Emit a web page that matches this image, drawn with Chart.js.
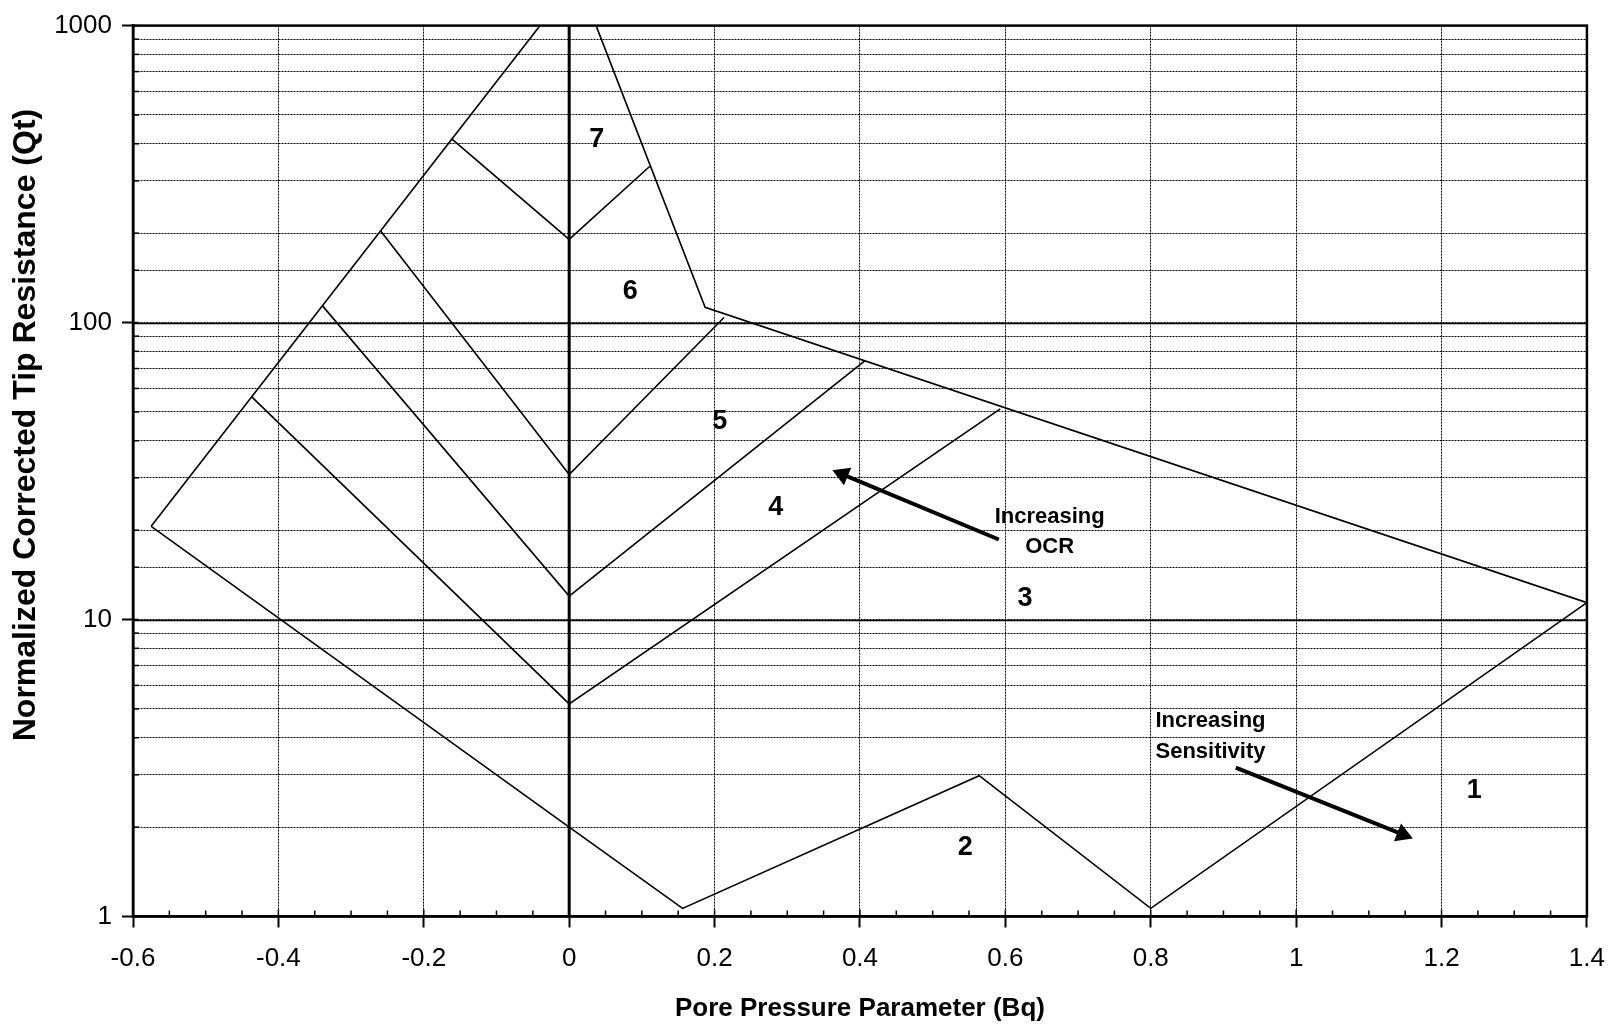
<!DOCTYPE html>
<html>
<head>
<meta charset="utf-8">
<script src="https://cdn.jsdelivr.net/npm/chart.js@4.4.0/dist/chart.umd.min.js"></script>
<style>
  html, body { margin: 0; padding: 0; background: #fff; }
  #wrap { width: 1621px; height: 1026px; }
</style>
</head>
<body>
<div id="wrap"><canvas id="chart"></canvas></div>
<script>
var outerBq = [-0.575, -0.04];
var outerQt = [20.6, 1000];
var upperBq = [0.037, 0.187, 1.4];
var upperQt = [1000, 112.5, 11.4];
var lowerBq = [-0.575, 0, 0.156, 0.564, 0.8, 1.4];
var lowerQt = [20.6, 2, 1.065, 2.98, 1.065, 11.4];
var line34Bq = [-0.437, 0, 0.593];
var line34Qt = [56.3, 5.2, 51.2];
var line45Bq = [-0.339, 0, 0.407];
var line45Qt = [113.6, 12.0, 74.5];
var line56Bq = [-0.259, 0, 0.213];
var line56Qt = [203, 30.8, 104];
var line67Bq = [-0.162, 0, 0.111];
var line67Qt = [416, 190.6, 336];
var zeroBq = [0, 0];
var zeroQt = [1, 1000];

var zoneNames = ["1", "2", "3", "4", "5", "6", "7"];
var zoneBq = [1.245, 0.545, 0.627, 0.284, 0.207, 0.084, 0.038];
var zoneQt = [2.65, 1.71, 11.8, 23.8, 46.5, 127, 414];

var ocrArrowBq = [0.591, 0.376];
var ocrArrowQt = [18.6, 30.8];
var sensArrowBq = [0.917, 1.1465];
var sensArrowQt = [3.17, 1.89];

var yTickLabels = [1, 10, 100, 1000];
var yTitle = "Normalized Corrected Tip Resistance (Qt)";

var FONT = "'Liberation Sans', Arial, sans-serif";
Chart.defaults.font.family = FONT;
Chart.defaults.color = "#000";

function pts(xs, ys) {
  return xs.map(function (x, i) { return { x: x, y: ys[i] }; });
}
function isDecade(v) {
  var l = Math.log10(v);
  return Math.abs(l - Math.round(l)) < 1e-9;
}
function line(xs, ys, w) {
  return { data: pts(xs, ys), showLine: true, borderColor: "#000", borderWidth: w,
           pointRadius: 0, fill: false, tension: 0 };
}
function arrow(xs, ys) {
  return {
    data: pts(xs, ys), showLine: true, borderColor: "#000", borderWidth: 4,
    pointStyle: "triangle", backgroundColor: "#000", pointBorderColor: "#000",
    pointRadius: function (c) { return c.dataIndex === 1 ? 7 : 0; },
    rotation: function (c) {
      var sx = c.chart.scales.x, sy = c.chart.scales.y;
      var d = c.dataset.data;
      var dx = sx.getPixelForValue(d[1].x) - sx.getPixelForValue(d[0].x);
      var dy = sy.getPixelForValue(d[1].y) - sy.getPixelForValue(d[0].y);
      return Math.atan2(dy, dx) * 180 / Math.PI + 90;
    }
  };
}

var decor = {
  id: "decor",
  beforeDatasetsDraw: function (chart) {
    var ctx = chart.ctx, a = chart.chartArea, sy = chart.scales.y;
    ctx.save();
    ctx.strokeStyle = "#000";
    ctx.lineWidth = 1.3;
    [10, 100].forEach(function (v) {
      var y = Math.round(sy.getPixelForValue(v)) + 0.5;
      ctx.beginPath(); ctx.moveTo(a.left, y); ctx.lineTo(a.right, y); ctx.stroke();
    });
    ctx.restore();
  },
  afterDatasetsDraw: function (chart) {
    var ctx = chart.ctx, a = chart.chartArea, sx = chart.scales.x, sy = chart.scales.y;
    ctx.save();
    ctx.strokeStyle = "#000";
    ctx.lineWidth = 2.5;
    ctx.strokeRect(a.left, a.top, a.right - a.left, a.bottom - a.top);

    // inward minor ticks
    ctx.lineWidth = 1.5;
    var xt = sx.ticks.map(function (t) { return t.value; });
    for (var i = 0; i < xt.length; i++) {
      var px = sx.getPixelForValue(xt[i]);
      ctx.beginPath(); ctx.moveTo(px, a.bottom); ctx.lineTo(px, a.bottom - 7); ctx.stroke();
      if (i < xt.length - 1) {
        var st = (xt[i + 1] - xt[i]) / 4;
        for (var k = 1; k < 4; k++) {
          var mx = sx.getPixelForValue(xt[i] + st * k);
          ctx.beginPath(); ctx.moveTo(mx, a.bottom); ctx.lineTo(mx, a.bottom - 6); ctx.stroke();
        }
      }
    }
    sy.ticks.forEach(function (t) {
      var py = sy.getPixelForValue(t.value);
      ctx.beginPath(); ctx.moveTo(a.left, py); ctx.lineTo(a.left + 6, py); ctx.stroke();
    });

    // zone numbers
    ctx.fillStyle = "#000";
    ctx.textAlign = "center";
    ctx.textBaseline = "middle";
    ctx.font = "bold 27px " + FONT;
    zoneNames.forEach(function (n, i) {
      ctx.fillText(n, sx.getPixelForValue(zoneBq[i]), sy.getPixelForValue(zoneQt[i]));
    });

    // annotations
    ctx.font = "bold 22px " + FONT;
    ctx.fillText("Increasing", sx.getPixelForValue(0.661), sy.getPixelForValue(22.2));
    ctx.fillText("OCR", sx.getPixelForValue(0.661), sy.getPixelForValue(17.6));
    ctx.textAlign = "left";
    ctx.fillText("Increasing", sx.getPixelForValue(0.8065), sy.getPixelForValue(4.54));
    ctx.fillText("Sensitivity", sx.getPixelForValue(0.8065), sy.getPixelForValue(3.58));

    // y axis title, sits a bit above the middle of the axis
    ctx.textAlign = "center";
    ctx.font = "bold 32px " + FONT;
    ctx.translate(26, sy.getPixelForValue(Math.pow(10, 1.655)));
    ctx.rotate(-Math.PI / 2);
    ctx.fillText(yTitle, 0, 0);
    ctx.restore();
  }
};

new Chart(document.getElementById("chart"), {
  type: "scatter",
  data: {
    datasets: [
      line(outerBq, outerQt, 1.6),
      line(upperBq, upperQt, 1.6),
      line(lowerBq, lowerQt, 1.6),
      line(line34Bq, line34Qt, 1.6),
      line(line45Bq, line45Qt, 1.6),
      line(line56Bq, line56Qt, 1.6),
      line(line67Bq, line67Qt, 1.6),
      line(zeroBq, zeroQt, 3),
      arrow(ocrArrowBq, ocrArrowQt),
      arrow(sensArrowBq, sensArrowQt)
    ]
  },
  options: {
    responsive: true,
    maintainAspectRatio: false,
    animation: false,
    layout: { padding: { top: 21, right: 28, left: 0, bottom: 0 } },
    plugins: { legend: { display: false }, tooltip: { enabled: false } },
    scales: {
      x: {
        type: "linear", min: -0.6, max: 1.4,
        ticks: {
          stepSize: 0.2, maxRotation: 0, padding: 16, font: { size: 26 }, color: "#000",
          callback: function (v) { return String(+v.toFixed(1)); }
        },
        grid: { color: "#000", lineWidth: 1, tickLength: 11, tickColor: "#000", tickWidth: 2 },
        border: { color: "#000", width: 2.5, dash: [2, 1] },
        title: { display: true, text: "Pore Pressure Parameter (Bq)", color: "#000",
                 font: { size: 26, weight: "bold" }, padding: { top: 0, bottom: 2 } },
        afterFit: function (s) { s.height = 109.5; }
      },
      y: {
        type: "logarithmic", min: 1, max: 1000,
        ticks: {
          autoSkip: false, padding: 10, font: { size: 26 }, color: "#000",
          callback: function (v) { return yTickLabels.indexOf(v) >= 0 ? String(v) : ""; }
        },
        grid: {
          color: "#000", lineWidth: 1, tickLength: 11, tickWidth: 2,
          tickColor: function (c) { return c.tick && isDecade(c.tick.value) ? "#000" : "rgba(0,0,0,0)"; }
        },
        border: { color: "#000", width: 2.5, dash: [2, 1] },
        afterFit: function (s) { s.width = 133; }
      }
    }
  },
  plugins: [decor]
});
</script>
</body>
</html>
